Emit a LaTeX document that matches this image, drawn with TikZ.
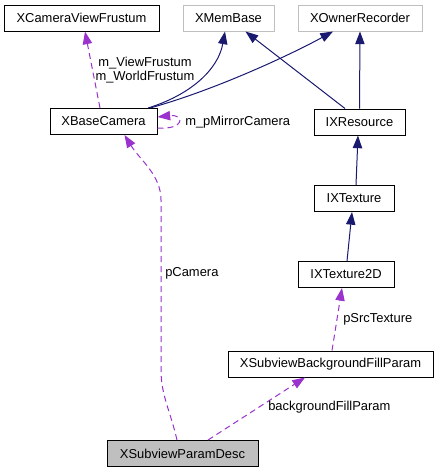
\documentclass[tikz,border=0pt]{standalone}
\usepackage{fontspec}
\setmainfont{Liberation Sans}
\usetikzlibrary{arrows.meta,calc}
\definecolor{navyedge}{HTML}{191970}
\definecolor{purpedge}{HTML}{9A32CD}
\definecolor{graybd}{HTML}{BFBFBF}
\begin{document}
\begin{tikzpicture}[x=0.75pt,y=-0.75pt,
  font=\fontsize{9.7}{11.6}\selectfont,
  cls/.style={draw=black, fill=white, minimum height=19.5pt, inner sep=0pt, line width=0.75pt},
  ext/.style={cls, draw=graybd},
  cur/.style={cls, fill=graybd},
  inh/.style={draw=navyedge, line width=0.75pt, -{Triangle[length=9.5pt,width=7pt]}},
  use/.style={draw=purpedge, dash pattern=on 4.5pt off 3pt, line width=0.75pt, -{Triangle[length=9.5pt,width=7pt]}},
  lbl/.style={anchor=west, inner sep=0pt}]
\path[use as bounding box] (0,0) rectangle (439,472);
\node[cls, minimum width=116.25pt] (cvf) at (81.5,18) {XCameraViewFrustum};
\node[ext, minimum width=68.25pt] (mem) at (228.5,18) {XMemBase};
\node[ext, minimum width=93pt] (own) at (360,18) {XOwnerRecorder};
\node[cls, minimum width=80.25pt] (cam) at (103.5,121.5) {XBaseCamera};
\node[cls, minimum width=68.25pt] (res) at (359.5,122) {IXResource};
\node[cls, minimum width=60pt] (tex) at (354,198.5) {IXTexture};
\node[cls, minimum width=72pt] (tex2) at (346,274.5) {IXTexture2D};
\node[cls, minimum width=153.75pt] (bfp) at (330.5,364) {XSubviewBackgroundFillParam};
\node[cur, minimum width=113.25pt] (spd) at (182.5,453.5) {XSubviewParamDesc};
% inheritance
\draw[inh] ($(cam.north)+(44.5,0)$) .. controls (190,95) and (218,70) .. ($(mem.south)+(-3.5,0)$);
\draw[inh] ($(cam.north)+(46.5,0)$) .. controls (215,90) and (290,55) .. ($(own.south)+(-27,0)$);
\draw[inh] ($(res.north)+(-14.5,0)$) -- ($(mem.south)+(17,0)$);
\draw[inh] (res.north) -- (own.south);
\draw[inh] ($(tex.north)+(2,0)$) -- ($(res.south)+(-1.5,0)$);
\draw[inh] ($(tex2.north)+(1,0)$) -- ($(tex.south)+(-2,0)$);
% usage
\draw[use] ($(cam.north)+(-3.5,0)$) -- ($(cvf.south)+(3.5,0)$);
\draw[use] ($(cam.east)+(0,6.5)$) .. controls (185,130) and (185,114) .. ($(cam.east)+(0,-4.5)$);
\draw[use] ($(spd.north)+(-5.5,0)$) .. controls (170,410) and (161,395) .. (161,370) -- (161,200) .. controls (161,175) and (140,160) .. ($(cam.south)+(21,0)$);
\draw[use] ($(bfp.north)+(1.5,0)$) -- ($(tex2.south)+(-4,0)$);
\draw[use] ($(spd.north)+(25.5,0)$) -- ($(bfp.south)+(-25.5,0)$);
% labels
\node[inner sep=0pt, align=center, font=\fontsize{9.7}{10.5}\selectfont] (l1) at (145,70) {m\_ViewFrustum\\m\_WorldFrustum};
\node[lbl] (l2) at (185,122) {m\_pMirrorCamera};
\node[lbl] (l3) at (165,273) {pCamera};
\node[lbl] (l4) at (343,319) {pSrcTexture};
\node[lbl] (l5) at (268,407) {backgroundFillParam};
\end{tikzpicture}
\end{document}
